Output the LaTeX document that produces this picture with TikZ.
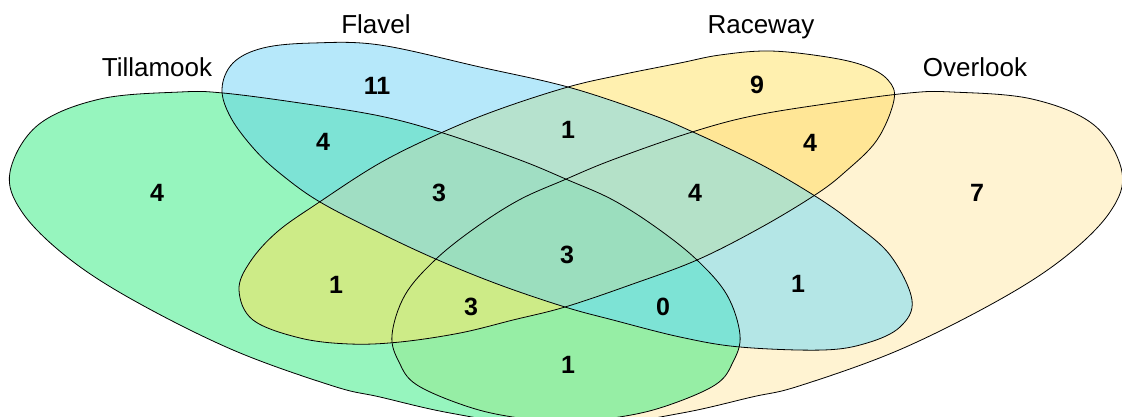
\documentclass[tikz,border=0pt]{standalone}
\usepackage{fontspec}
\setmainfont{Liberation Sans}

% region colours
\definecolor{cT}{RGB}{150,245,190}
\definecolor{cF}{RGB}{182,232,250}
\definecolor{cR}{RGB}{255,240,175}
\definecolor{cO}{RGB}{255,243,210}
\definecolor{cTF}{RGB}{125,227,213}
\definecolor{cTR}{RGB}{205,235,135}
\definecolor{cTO}{RGB}{150,238,165}
\definecolor{cFR}{RGB}{182,226,206}
\definecolor{cFO}{RGB}{180,230,230}
\definecolor{cRO}{RGB}{255,230,150}
\definecolor{cTFR}{RGB}{160,222,195}
\definecolor{cTFO}{RGB}{125,227,213}
\definecolor{cTRO}{RGB}{205,235,135}
\definecolor{cFRO}{RGB}{180,225,200}
\definecolor{cAll}{RGB}{155,222,190}

% outlines of the sets (Overlook is the mirror image of Tillamook)
\def\Tshape{plot[smooth cycle, tension=0.6] coordinates {(10,172) (38,125) (100,99) (180,92) (223,93) (300,103) (380,116) (443,133) (520,160) (568,180) (613,200) (657,228) (697,260) (727,295) (740,335) (733,362) (715,385) (663,407) (613,418) (540,426) (450,413) (380,397) (333,386) (233,350) (133,300) (67,257) (22,212)}}
\def\Fshape{plot[smooth cycle, tension=0.6] coordinates {(222,89) (233,63) (263,48) (313,43) (380,45) (480,67) (568,87) (647,113) (693,132) (760,164) (815,196) (852,222) (890,255) (912,300) (900,327) (867,343) (823,350) (740,347) (680,337) (613,320) (565,307) (500,285) (438,260) (380,233) (320,202) (282,175) (255,150) (231,118)}}
\def\Rshape{plot[smooth cycle, tension=0.6] coordinates {(239,290) (253,320) (300,338) (350,344) (400,342) (460,333) (513,320) (565,307) (630,285) (697,260) (760,228) (815,195) (845,172) (877,140) (894,100) (888,80) (865,66) (827,57) (770,51) (720,55) (680,63) (620,75) (568,87) (500,109) (443,132) (380,163) (318,203) (277,232) (250,262)}}

\tikzset{
  mirrorO/.style={shift={(1132,0)}, xscale=-1},
  vennline/.style={draw=black, line width=0.8pt},
  setlabel/.style={font=\fontsize{26}{30}\selectfont, anchor=base, inner sep=0pt},
  numlabel/.style={font=\bfseries\fontsize{25}{30}\selectfont, inner sep=0pt}
}

\begin{document}
\begin{tikzpicture}[x=1pt, y=-1pt]
\useasboundingbox (0,0) rectangle (1122,416);
\clip (0,0) rectangle (1122,416);

% single sets
\fill[cT] \Tshape;
\fill[cF] \Fshape;
\fill[cR] \Rshape;
\fill[cO, mirrorO] \Tshape;

% pairwise overlaps
\begin{scope}\clip \Tshape; \fill[cTF] \Fshape; \end{scope}
\begin{scope}\clip \Tshape; \fill[cTR] \Rshape; \end{scope}
\begin{scope}\clip \Tshape; \fill[cTO, mirrorO] \Tshape; \end{scope}
\begin{scope}\clip \Fshape; \fill[cFR] \Rshape; \end{scope}
\begin{scope}\clip \Fshape; \fill[cFO, mirrorO] \Tshape; \end{scope}
\begin{scope}\clip \Rshape; \fill[cRO, mirrorO] \Tshape; \end{scope}

% triple overlaps
\begin{scope}\clip \Tshape; \clip \Fshape; \fill[cTFR] \Rshape; \end{scope}
\begin{scope}\clip \Tshape; \clip \Fshape; \fill[cTFO, mirrorO] \Tshape; \end{scope}
\begin{scope}\clip \Tshape; \clip \Rshape; \fill[cTRO, mirrorO] \Tshape; \end{scope}
\begin{scope}\clip \Fshape; \clip \Rshape; \fill[cFRO, mirrorO] \Tshape; \end{scope}

% all four
\begin{scope}\clip \Tshape; \clip \Fshape; \clip \Rshape; \fill[cAll, mirrorO] \Tshape; \end{scope}

% outlines
\draw[vennline] \Tshape;
\draw[vennline] \Fshape;
\draw[vennline] \Rshape;
\draw[vennline, mirrorO] \Tshape;

% set names
\node[setlabel] (labT) at (157,76) {Tillamook};
\node[setlabel] (labF) at (376,33) {Flavel};
\node[setlabel] (labR) at (761,33) {Raceway};
\node[setlabel] (labO) at (975,76) {Overlook};

% counts
\node[numlabel] (nT)    at (157,193) {4};
\node[numlabel] (nF)    at (377,86)  {11};
\node[numlabel] (nR)    at (757,85)  {9};
\node[numlabel] (nO)    at (977,193) {7};
\node[numlabel] (nTF)   at (323,142) {4};
\node[numlabel] (nFR)   at (568,130) {1};
\node[numlabel] (nRO)   at (810,143) {4};
\node[numlabel] (nTFR)  at (439,193) {3};
\node[numlabel] (nFRO)  at (695,193) {4};
\node[numlabel] (nAll)  at (567,255) {3};
\node[numlabel] (nTR)   at (336,285) {1};
\node[numlabel] (nFO)   at (798,284) {1};
\node[numlabel] (nTRO)  at (471,307) {3};
\node[numlabel] (nTFO)  at (663,307) {0};
\node[numlabel] (nTO)   at (568,365) {1};
\end{tikzpicture}
\end{document}
